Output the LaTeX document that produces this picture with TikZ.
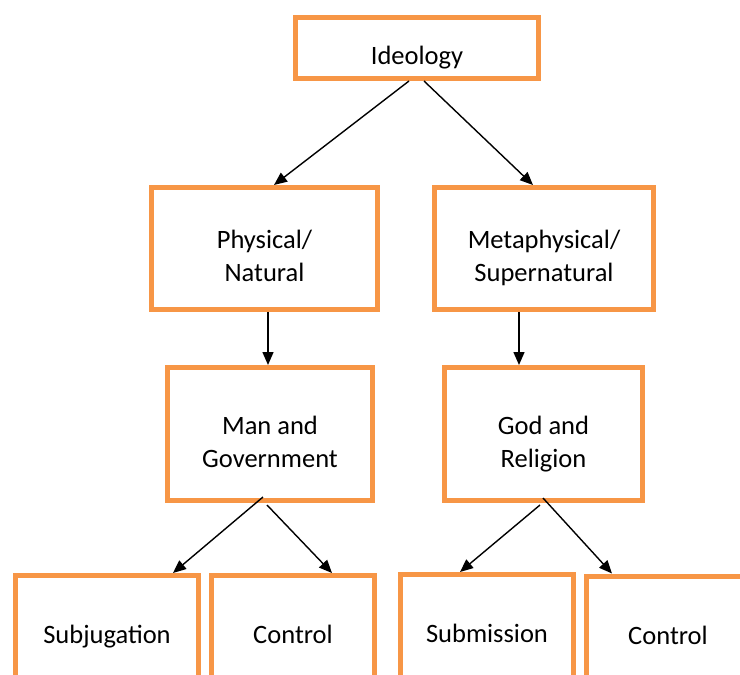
\documentclass[tikz,border=0pt]{standalone}
\usepackage{fontspec}
\setmainfont{Carlito}
\usepackage{tikz}
\usetikzlibrary{arrows.meta}
\definecolor{boxorange}{HTML}{F79646}
\newcommand{\boxtext}[1]{\raisebox{-10pt}[\height][\depth]{\begin{tabular}{@{}c@{}}#1\end{tabular}}} % text sits a little low in each box
\tikzset{
    x=1pt, y=-1pt, % one unit is one point, y runs downwards
    box/.style={draw=boxorange, line width=5pt, fill=white,
                font=\fontsize{26.5}{33}\selectfont}, % sets the properties for each box
    arr/.style={-{Triangle[length=13pt,width=11pt]}, line width=1.4pt}, % arrows between boxes
}
\begin{document}
\begin{tikzpicture}
                  \path[use as bounding box, clip] (0,0) rectangle (740,675);
                  \fill[white] (0,0) rectangle (740,675);
                  \node[box, minimum width=243pt, minimum height=61pt] (ideo) at (417,48) {\boxtext{Ideology}};
                  \node[box, minimum width=226pt, minimum height=122pt] (phys) at (264.5,248.5) {\boxtext{Physical/\\Natural}};
                  \node[box, minimum width=219pt, minimum height=122pt] (meta) at (544,248.5) {\boxtext{Metaphysical/\\Supernatural}};
                  \node[box, minimum width=205pt, minimum height=133pt] (man) at (270,434) {\boxtext{Man and\\Government}};
                  \node[box, minimum width=198pt, minimum height=133pt] (god) at (543.5,434) {\boxtext{God and\\Religion}};
                  \node[box, minimum width=183pt, minimum height=103pt] (subj) at (107,627) {\boxtext{Subjugation}};
                  \node[box, minimum width=163pt, minimum height=103pt] (ctrlL) at (293,627) {\boxtext{Control}};
                  \node[box, minimum width=173pt, minimum height=103pt] (subm) at (487,626) {\boxtext{Submission}};
                  \node[box, minimum width=163pt, minimum height=103pt] (ctrlR) at (668,627.5) {\boxtext{Control}};
                  \draw[arr] ([xshift=-8pt]ideo.south) -- ([xshift=9.5pt]phys.north);
                  \draw[arr] ([xshift=7pt]ideo.south) -- ([xshift=-11pt]meta.north);
                  \draw[arr] ([xshift=3.5pt]phys.south) -- ([xshift=3.5pt]phys.south |- man.north);
                  \draw[arr] ([xshift=-25pt]meta.south) -- ([xshift=-25pt]meta.south |- god.north);
                  \draw[arr] ([xshift=-7pt,yshift=6pt]man.south) -- ([xshift=66pt]subj.north);
                  \draw[arr] ([xshift=-3pt,yshift=-2pt]man.south) -- ([xshift=39pt]ctrlL.north);
                  \draw[arr] ([xshift=-3.5pt,yshift=-2pt]god.south) -- ([xshift=-27pt]subm.north);
                  \draw[arr] ([xshift=-0.5pt,yshift=5pt]god.south) -- ([xshift=-56pt]ctrlR.north);
              \end{tikzpicture}
\end{document}
